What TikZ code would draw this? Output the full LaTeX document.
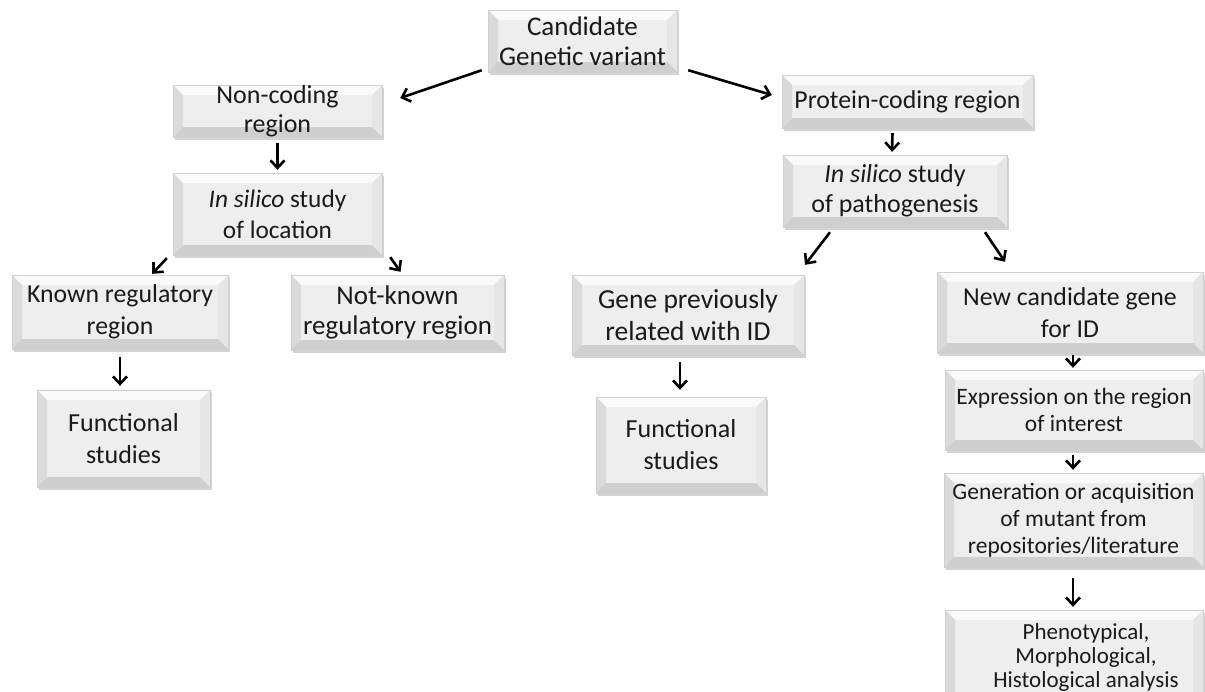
\documentclass[tikz,border=0pt]{standalone}
\usepackage{fontspec}
\setmainfont{Carlito}
\usetikzlibrary{arrows.meta,shadows,calc}
\definecolor{face}{HTML}{EEEEEE}
\definecolor{btop}{HTML}{FAFAFA}
\definecolor{bleft}{HTML}{DADADA}
\definecolor{bright}{HTML}{E6E6E6}
\definecolor{bbot}{HTML}{CFCFCF}
\definecolor{txt}{HTML}{1A1A1A}
\newcommand{\fs}[2]{\fontsize{#1}{#2}\selectfont}
\tikzset{
  box/.style={fill=face, draw=bbot, line width=0.4pt, align=center, text=txt, inner sep=0pt,
    drop shadow={shadow xshift=2pt, shadow yshift=-2.5pt, opacity=0.35, fill=gray},
    path picture={
      \fill[btop] (path picture bounding box.north west) -- (path picture bounding box.north east)
        -- ($(path picture bounding box.north east)+(-10pt,-10pt)$) -- ($(path picture bounding box.north west)+(10pt,-10pt)$) -- cycle;
      \fill[bleft] (path picture bounding box.north west) -- ($(path picture bounding box.north west)+(10pt,-10pt)$)
        -- ($(path picture bounding box.south west)+(10pt,10pt)$) -- (path picture bounding box.south west) -- cycle;
      \fill[bright] (path picture bounding box.north east) -- ($(path picture bounding box.north east)+(-10pt,-10pt)$)
        -- ($(path picture bounding box.south east)+(-10pt,10pt)$) -- (path picture bounding box.south east) -- cycle;
      \fill[bbot] (path picture bounding box.south west) -- ($(path picture bounding box.south west)+(10pt,10pt)$)
        -- ($(path picture bounding box.south east)+(-10pt,10pt)$) -- (path picture bounding box.south east) -- cycle;
    }},
  arr/.style={line width=2.6pt, -{Straight Barb[length=7.5pt,width=14pt,line width=2.6pt]}, black}
}
\begin{document}
\begin{tikzpicture}[x=1pt,y=-1pt]
\useasboundingbox (0,0) rectangle (1205,691);
\clip (0,0) rectangle (1205,691);
% nodes
\node[box, minimum width=189pt, minimum height=62pt, font=\fs{27}{30}] (cand) at (582.5,41) {Candidate\\Genetic variant};
\node[box, minimum width=209pt, minimum height=52pt, font=\fs{26}{29}] (noncod) at (277.5,111) {\raisebox{-2pt}{Non-coding}\\\raisebox{-2pt}{region}};
\node[box, minimum width=209pt, minimum height=82pt, font=\fs{25.3}{31}] (sil1) at (277.5,214) {\textit{In silico} study\\of location};
\node[box, minimum width=216pt, minimum height=74pt, font=\fs{25.8}{32}] (known) at (120,312) {Known regulatory\\region};
\node[box, minimum width=213pt, minimum height=75pt, font=\fs{27}{30}] (notknown) at (397.5,312.5) {Not-known\\regulatory region};
\node[box, minimum width=173pt, minimum height=97pt, font=\fs{26}{32}] (func1) at (123.5,438.5) {Functional\\studies};
\node[box, minimum width=251pt, minimum height=53pt, font=\fs{25.8}{30}] (prot) at (907.5,101.5) {Protein-coding region};
\node[box, minimum width=224pt, minimum height=72pt, font=\fs{26}{30}] (sil2) at (895,191) {\textit{In silico} study\\of pathogenesis};
\node[box, minimum width=232pt, minimum height=80pt, font=\fs{27.5}{32}] (gene) at (688,315) {Gene previously\\related with ID};
\node[box, minimum width=170pt, minimum height=96pt, font=\fs{26}{32}] (func2) at (681,445) {Functional\\studies};
\node[box, minimum width=266pt, minimum height=81pt, font=\fs{25.8}{32}] (newc) at (1070,312.5) {New candidate gene\\for ID};
\node[box, minimum width=258pt, minimum height=80pt, font=\fs{23.5}{27}] (expr) at (1074,410) {Expression on the region\\of interest};
\node[box, minimum width=259pt, minimum height=94pt, font=\fs{23.5}{27}] (gen) at (1073.5,520) {Generation or acquisition\\of mutant from\\repositories/literature};
\node[box, minimum width=258pt, minimum height=108pt] (phen) at (1074,664) {};
\node[align=center, text=txt, font=\fs{23}{24}, inner sep=0pt] (phent) at (1086,657) {Phenotypical,\\Morphological,\\Histological analysis};
% arrows
\draw[arr] ([shift={(-6,-2)}]cand.south west) -- ([shift={(18,-13)}]noncod.east);
\draw[arr] ([shift={(11,-2)}]cand.south east) -- ([shift={(-10,-6.5)}]prot.west);
\draw[arr] ([shift={(0,6)}]noncod.south) -- ([shift={(0,-3)}]sil1.north);
\draw[arr] ([shift={(-6,3)}]sil1.south west) -- ([shift={(-76,-1)}]known.north east);
\draw[arr] ([shift={(8,2)}]sil1.south east) -- ([shift={(3,-3)}]notknown.north);
\draw[arr] ([shift={(0,8)}]known.south) -- ([shift={(0,-4)}]known.south |- func1.north);
\draw[arr] ([shift={(-15,5)}]prot.south) -- ([shift={(-3,-3)}]sil2.north);
\draw[arr] ([shift={(-65,5)}]sil2.south) -- ([shift={(117,-10)}]gene.north);
\draw[arr] ([shift={(90,5)}]sil2.south) -- ([shift={(-65,-10)}]newc.north);
\draw[arr] ([shift={(-8,7)}]gene.south) -- ([shift={(-1,-7)}]func2.north);
\draw[arr] ([shift={(3,2)}]newc.south) -- ([shift={(-1,-2)}]expr.north);
\draw[arr] ([shift={(-1,5)}]expr.south) -- ([shift={(-0.5,-3)}]gen.north);
\draw[arr] ([shift={(-0.5,11)}]gen.south) -- ([shift={(-1,-3)}]phen.north);
\end{tikzpicture}
\end{document}
